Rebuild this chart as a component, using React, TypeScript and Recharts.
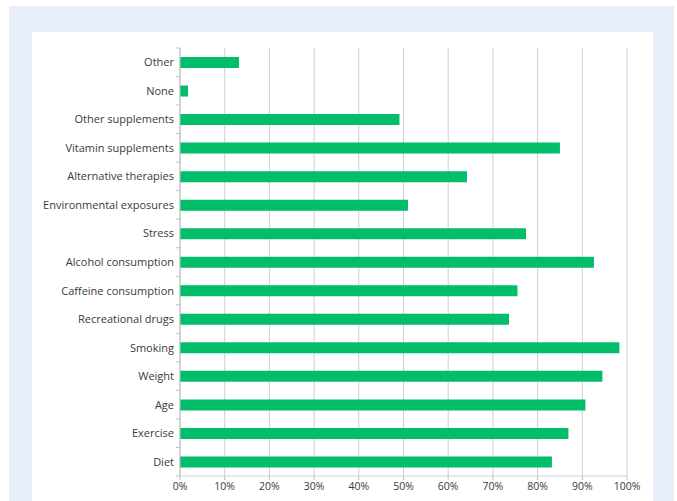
import React from 'react'
import { Bar, BarChart, CartesianGrid, XAxis, YAxis } from 'recharts'

const categories = [
  'Other',
  'None',
  'Other supplements',
  'Vitamin supplements',
  'Alternative therapies',
  'Environmental exposures',
  'Stress',
  'Alcohol consumption',
  'Caffeine consumption',
  'Recreational drugs',
  'Smoking',
  'Weight',
  'Age',
  'Exercise',
  'Diet',
]

const percentValues = [13.2, 1.8, 49.1, 85, 64.2, 51, 77.4, 92.6, 75.5, 73.6, 98.3, 94.5, 90.7, 86.9, 83.2]

const xTicks = [0, 10, 20, 30, 40, 50, 60, 70, 80, 90, 100]

const chartData = categories.map((name, i) => ({ name, value: percentValues[i] }))

const W = 677
const H = 501
const TOP = 48
const AXIS_W = 180
const X_AXIS_H = 25
const STEP = (H - TOP - X_AXIS_H) / categories.length
const FONT = '"Open Sans", Lato, sans-serif'

const CategoryTick = (props: any) => {
  const { x, y, payload, index } = props
  return (
    <g>
      <text x={x} y={y} dy={4} textAnchor="end" fontSize={11} fill="#3a3a3a" fontFamily={FONT}>
        {payload.value}
      </text>
      <line x1={AXIS_W - 4} x2={AXIS_W} y1={y - STEP / 2} y2={y - STEP / 2} stroke="#bfbfbf" />
      {index === categories.length - 1 && (
        <line x1={AXIS_W - 4} x2={AXIS_W} y1={y + STEP / 2} y2={y + STEP / 2} stroke="#bfbfbf" />
      )}
    </g>
  )
}

const App = () => {
  return (
    <div style={{ position: 'fixed', left: 0, top: 0, width: W, height: H, background: '#ffffff' }}>
      <div style={{ position: 'absolute', left: 9, top: 6, width: 665, height: 495, background: '#e7eef8' }} />
      <div style={{ position: 'absolute', left: 32, top: 32, width: 621, height: 469, background: '#ffffff' }} />
      <div style={{ position: 'absolute', left: 0, top: 0 }}>
        <BarChart
          width={W}
          height={H}
          data={chartData}
          layout="vertical"
          margin={{ top: TOP, right: 50, left: 0, bottom: 0 }}
        >
          <CartesianGrid horizontal={false} stroke="#cfcfcf" />
          <XAxis
            type="number"
            domain={[0, 100]}
            ticks={xTicks}
            height={X_AXIS_H}
            tickFormatter={(v) => `${v}%`}
            tick={{ fontSize: 10.5, fill: '#3a3a3a', fontFamily: FONT }}
            tickSize={4}
            tickMargin={3}
            axisLine={{ stroke: '#d0d0d0' }}
            tickLine={{ stroke: '#bfbfbf' }}
          />
          <YAxis
            type="category"
            dataKey="name"
            width={AXIS_W}
            interval={0}
            tick={<CategoryTick />}
            tickSize={4}
            tickMargin={2}
            tickLine={false}
            axisLine={{ stroke: '#bfbfbf' }}
          />
          <Bar dataKey="value" fill="#02bd6a" barSize={11} isAnimationActive={false} />
        </BarChart>
      </div>
    </div>
  )
}

export default App
